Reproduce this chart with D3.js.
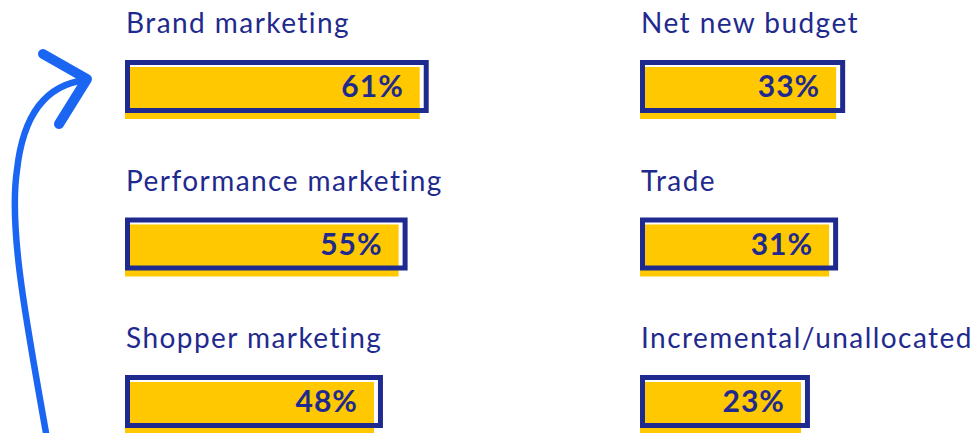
<!DOCTYPE html>
<html>
<head>
<meta charset="utf-8">
<script src="https://cdn.jsdelivr.net/npm/d3@7"></script>
<style>
  body { margin: 0; background: #fff; }
  svg { display: block; }
</style>
</head>
<body>
<div class="chart"></div>
<script>
// chart data
var categories = ["Brand marketing", "Performance marketing", "Shopper marketing",
                  "Net new budget", "Trade", "Incremental/unallocated"];
var values = [61, 55, 48, 33, 31, 23];
var columns = ["left", "left", "left", "right", "right", "right"];

var svgWidth = 977;
var svgHeight = 433;

var navy = "#1f2a8e";
var yellow = "#ffc800";
var arrowBlue = "#1a66f2";

var svg = d3.select(".chart")
  .append("svg")
  .attr("width", svgWidth)
  .attr("height", svgHeight);

var data = categories.map(function (c, i) {
  return { name: c, value: values[i], col: columns[i], row: i % 3 };
});

// column start positions and row tops
var xCol = d3.scalePoint()
  .domain(["left", "right"])
  .range([125, 640]);

var yRow = d3.scalePoint()
  .domain([0, 1, 2])
  .range([60, 375]);

// bar length: leaves room for the label even for small values
var wScale = d3.scaleLinear()
  .domain([0, 100])
  .range([80, 432]);

var barH = 52;
var frameH = 53;
var border = 5;

var groups = svg.selectAll("g.item")
  .data(data)
  .enter()
  .append("g")
  .attr("class", "item")
  .attr("transform", d => `translate(${xCol(d.col)}, ${yRow(d.row)})`);

// yellow bar, shifted down from the frame
groups.append("rect")
  .attr("x", 0)
  .attr("y", 7)
  .attr("width", d => wScale(d.value))
  .attr("height", barH)
  .attr("fill", yellow);

// navy frame
groups.append("rect")
  .attr("x", border / 2)
  .attr("y", border / 2)
  .attr("width", d => wScale(d.value) + 9 - border)
  .attr("height", frameH - border)
  .attr("fill", "none")
  .attr("stroke", navy)
  .attr("stroke-width", border);

// value labels
groups.append("text")
  .attr("x", d => wScale(d.value) - 16)
  .attr("y", 37)
  .attr("text-anchor", "end")
  .attr("fill", navy)
  .style("font-family", "Lato, 'Open Sans', sans-serif")
  .style("font-weight", 700)
  .style("font-size", "30px")
  .style("letter-spacing", "1px")
  .text(d => d.value + "%");

// category labels
groups.append("text")
  .attr("x", 1)
  .attr("y", -27)
  .attr("fill", navy)
  .style("font-family", "Lato, 'Open Sans', sans-serif")
  .style("font-size", "28px")
  .style("letter-spacing", "1.45px")
  .text(d => d.name);

// hand drawn arrow on the left
svg.append("path")
  .attr("d", "M46,433 C28,330 8,230 17,170 C23,115 45,85 85,80")
  .attr("fill", "none")
  .attr("stroke", arrowBlue)
  .attr("stroke-width", 6.5)
  .attr("stroke-linecap", "round");

svg.append("path")
  .attr("d", "M43,54 L87,79 L59,124")
  .attr("fill", "none")
  .attr("stroke", arrowBlue)
  .attr("stroke-width", 10)
  .attr("stroke-linecap", "round")
  .attr("stroke-linejoin", "round");
</script>
</body>
</html>
